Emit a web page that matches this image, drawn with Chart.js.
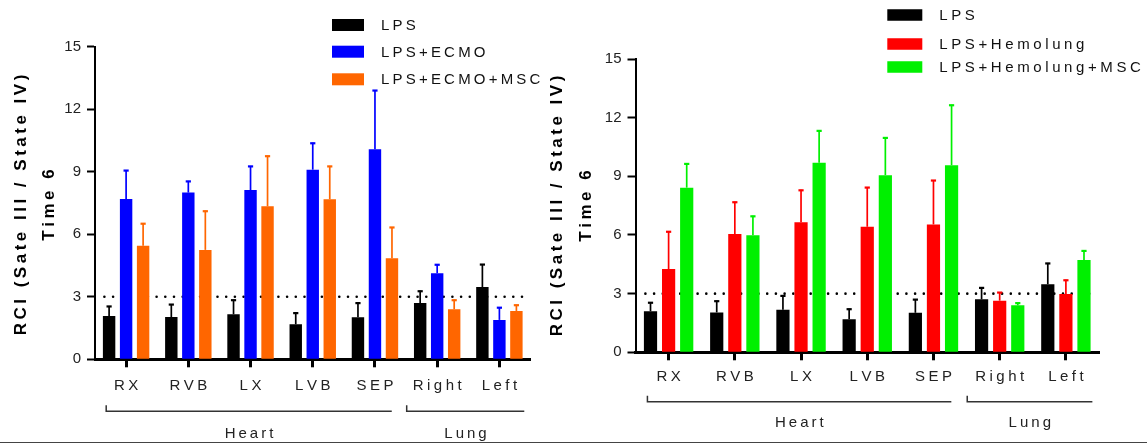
<!DOCTYPE html>
<html>
<head>
<meta charset="utf-8">
<script src="https://cdn.jsdelivr.net/npm/chart.js@4.4.0/dist/chart.umd.min.js"></script>
<style>
  html, body { margin: 0; padding: 0; background: #fff; }
  #painel { position: relative; width: 1147px; height: 444px; overflow: hidden; }
  #graficoEcmo { position: absolute; left: 0; top: 0; width: 570px; height: 444px; }
  #graficoHemolung { position: absolute; left: 540px; top: 0; width: 607px; height: 444px; }
  #linhaBase { position: absolute; left: 0; top: 441.5px; width: 1147px; height: 1.5px; background: #444; }
</style>
</head>
<body>
<div id="painel">
  <canvas id="graficoEcmo" width="570" height="444"></canvas>
  <canvas id="graficoHemolung" width="607" height="444"></canvas>
  <div id="linhaBase"></div>
</div>
<script>
console.log("✅ grafico RCI carregado");

// ==========================
// 📊 DADOS
// ==========================
const categorias = ["RX", "RVB", "LX", "LVB", "SEP", "Right", "Left"];
const grupoRotulos = ["Heart", "Lung"];
const grupoInicio = [0, 5];
const grupoFim = [4, 6];
const ticksY = [0, 3, 6, 9, 12, 15];
const limiteRCI = 3;
const tituloY = "RCI (Sate III / State IV)";
const subtituloY = "Time 6";

// painel ECMO
const seriesEcmo = ["LPS", "LPS+ECMO", "LPS+ECMO+MSC"];
const ecmoLps = [2.08, 2.03, 2.16, 1.68, 2.02, 2.7, 3.47];
const ecmoLpsSd = [0.48, 0.62, 0.7, 0.56, 0.7, 0.59, 1.1];
const ecmoEcmo = [7.69, 8.0, 8.12, 9.1, 10.08, 4.13, 1.89];
const ecmoEcmoSd = [1.39, 0.56, 1.16, 1.29, 2.84, 0.43, 0.61];
const ecmoMsc = [5.45, 5.25, 7.34, 7.68, 4.85, 2.4, 2.32];
const ecmoMscSd = [1.08, 1.88, 2.43, 1.6, 1.5, 0.46, 0.3];

// painel Hemolung
const seriesHemo = ["LPS", "LPS+Hemolung", "LPS+Hemolung+MSC"];
const hemoLps = [2.1, 2.04, 2.18, 1.69, 2.02, 2.71, 3.48];
const hemoLpsSd = [0.46, 0.6, 0.73, 0.54, 0.7, 0.61, 1.09];
const hemoHemo = [4.26, 6.05, 6.65, 6.42, 6.54, 2.64, 2.98];
const hemoHemoSd = [1.93, 1.65, 1.66, 2.03, 2.27, 0.44, 0.73];
const hemoMsc = [8.42, 5.98, 9.69, 9.06, 9.57, 2.4, 4.72];
const hemoMscSd = [1.24, 1.0, 1.66, 1.93, 3.09, 0.14, 0.49];

const FONTE = "'Liberation Sans', Arial, sans-serif";

// ==========================
// ✏️ TEXTO COM ESPAÇAMENTO
// ==========================
function textoEspacado(ctx, texto, x, y, espaco, alinhar) {
  const chars = Array.from(texto);
  const larguras = chars.map((c) => ctx.measureText(c).width);
  const total =
    larguras.reduce((a, b) => a + b, 0) + espaco * (chars.length - 1);
  let cx = x;
  if (alinhar === "center") cx = x - total / 2;
  if (alinhar === "right") cx = x - total;
  ctx.textAlign = "left";
  chars.forEach((c, i) => {
    ctx.fillText(c, cx, y);
    cx += larguras[i] + espaco;
  });
}

// ==========================
// 🧩 PLUGIN: linha 3, barras de erro, rótulos, legenda
// ==========================
const anotacoesRCI = {
  id: "anotacoesRCI",

  beforeDatasetsDraw(chart) {
    const { ctx } = chart;
    const y = chart.scales.y;
    const nDs = chart.data.datasets.length;
    const primeira = chart.getDatasetMeta(0).data[0];
    const metaUlt = chart.getDatasetMeta(nDs - 1);
    const ultima = metaUlt.data[metaUlt.data.length - 1];
    const py = y.getPixelForValue(limiteRCI);

    ctx.save();
    ctx.strokeStyle = "#000";
    ctx.lineWidth = 2.6;
    ctx.lineCap = "round";
    ctx.setLineDash([0, 8.7]);
    ctx.beginPath();
    ctx.moveTo(primeira.x - primeira.width / 2 + 1.5, py);
    ctx.lineTo(ultima.x + ultima.width / 2, py);
    ctx.stroke();
    ctx.restore();
  },

  afterDatasetsDraw(chart) {
    const { ctx } = chart;
    const y = chart.scales.y;
    ctx.save();
    chart.data.datasets.forEach((ds, d) => {
      const meta = chart.getDatasetMeta(d);
      ctx.strokeStyle = ds.backgroundColor;
      meta.data.forEach((barra, i) => {
        const topo = y.getPixelForValue(ds.data[i] + ds.desvio[i]);
        ctx.lineWidth = 1.7;
        ctx.beginPath();
        ctx.moveTo(barra.x, barra.y);
        ctx.lineTo(barra.x, topo);
        ctx.stroke();
        ctx.lineWidth = 2.2;
        ctx.beginPath();
        ctx.moveTo(barra.x - 2.6, topo + 0.5);
        ctx.lineTo(barra.x + 2.6, topo + 0.5);
        ctx.stroke();
      });
    });
    ctx.restore();
  },

  afterDraw(chart, args, opts) {
    const { ctx } = chart;
    const x = chart.scales.x;
    const area = chart.chartArea;
    const larguraCat = x.getPixelForValue(1) - x.getPixelForValue(0);

    ctx.save();
    ctx.fillStyle = "#222";
    ctx.textBaseline = "middle";

    // rótulos das categorias
    ctx.font = `15px ${FONTE}`;
    categorias.forEach((cat, i) => {
      textoEspacado(ctx, cat, x.getPixelForValue(i), area.bottom + opts.catY, 3.5, "center");
    });

    // chaves Heart / Lung
    ctx.strokeStyle = "#333";
    ctx.lineWidth = 1.5;
    const folgaIni = [0.32, 0.49];
    const folgaFim = [0.27, 0.4];
    grupoRotulos.forEach((rot, g) => {
      const x0 = x.getPixelForValue(grupoInicio[g]) - folgaIni[g] * larguraCat;
      const x1 = x.getPixelForValue(grupoFim[g]) + folgaFim[g] * larguraCat;
      const yc = area.bottom + opts.chaveY;
      ctx.beginPath();
      ctx.moveTo(x0, yc - 6);
      ctx.lineTo(x0, yc);
      ctx.lineTo(x1, yc);
      ctx.stroke();
      textoEspacado(ctx, rot, (x0 + x1) / 2, area.bottom + opts.grupoY, 3, "center");
    });

    // títulos do eixo Y
    ctx.fillStyle = "#000";
    ctx.font = `bold 17px ${FONTE}`;
    [[tituloY, opts.tituloX], [subtituloY, opts.subtituloX]].forEach(([txt, tx]) => {
      ctx.save();
      ctx.translate(tx, opts.tituloCentroY);
      ctx.rotate(-Math.PI / 2);
      textoEspacado(ctx, txt, 0, 0, 3.5, "center");
      ctx.restore();
    });

    // legenda
    ctx.font = `15px ${FONTE}`;
    chart.data.datasets.forEach((ds, d) => {
      const cy = opts.legenda.linhas[d];
      ctx.fillStyle = ds.backgroundColor;
      ctx.fillRect(opts.legenda.x, cy - opts.legenda.alt / 2, opts.legenda.larg, opts.legenda.alt);
      ctx.fillStyle = "#111";
      textoEspacado(ctx, ds.label, opts.legenda.textoX, cy + 1, opts.legenda.espaco, "left");
    });

    ctx.restore();
  },
};

// ==========================
// 📈 MONTAR GRÁFICO
// ==========================
function criarGrafico(canvasId, nomes, valores, desvios, cores, layout) {
  const canvas = document.getElementById(canvasId);
  const datasets = nomes.map((nome, i) => ({
    label: nome,
    data: valores[i],
    desvio: desvios[i],
    backgroundColor: cores[i],
    borderWidth: 0,
    categoryPercentage: 0.82,
    barPercentage: 0.73,
  }));

  return new Chart(canvas, {
    type: "bar",
    data: { labels: categorias, datasets },
    plugins: [anotacoesRCI],
    options: {
      responsive: false,
      animation: false,
      layout: {
        padding: { left: 0, right: layout.dir, top: layout.topo, bottom: 0 },
      },
      plugins: {
        legend: { display: false },
        tooltip: { enabled: false },
        anotacoesRCI: layout,
      },
      scales: {
        x: {
          offset: true,
          grid: {
            offset: false,
            drawOnChartArea: false,
            drawTicks: true,
            tickLength: 8,
            tickWidth: 3,
            tickColor: "#000",
          },
          border: { display: true, color: "#000", width: 3 },
          ticks: { display: false },
          afterFit: (s) => {
            s.height = layout.altX;
          },
        },
        y: {
          min: ticksY[0],
          max: ticksY[ticksY.length - 1],
          afterBuildTicks: (s) => {
            s.ticks = ticksY.map((v) => ({ value: v }));
          },
          grid: {
            drawOnChartArea: false,
            drawTicks: true,
            tickLength: 8,
            tickWidth: 2,
            tickColor: "#000",
          },
          border: { display: true, color: "#000", width: 2 },
          ticks: {
            color: "#222",
            padding: 6,
            font: { family: FONTE, size: 15 },
          },
          afterFit: (s) => {
            s.width = layout.largY;
          },
        },
      },
    },
  });
}

criarGrafico(
  "graficoEcmo",
  seriesEcmo,
  [ecmoLps, ecmoEcmo, ecmoMsc],
  [ecmoLpsSd, ecmoEcmoSd, ecmoMscSd],
  ["#000000", "#0000ff", "#ff6600"],
  {
    largY: 95,
    dir: 39.5,
    topo: 46.7,
    altX: 84.7,
    catY: 27,
    chaveY: 52,
    grupoY: 75,
    tituloX: 21,
    subtituloX: 49,
    tituloCentroY: 205,
    legenda: { x: 332, larg: 32, alt: 12, textoX: 381, espaco: 3.2, linhas: [25, 51.7, 79.3] },
  }
);

criarGrafico(
  "graficoHemolung",
  seriesHemo,
  [hemoLps, hemoHemo, hemoMsc],
  [hemoLpsSd, hemoHemoSd, hemoMscSd],
  ["#000000", "#ff0000", "#00f000"],
  {
    largY: 95.5,
    dir: 48,
    topo: 59,
    altX: 91.7,
    catY: 24.5,
    chaveY: 49.5,
    grupoY: 71,
    tituloX: 17,
    subtituloX: 46,
    tituloCentroY: 206,
    legenda: { x: 347.3, larg: 35, alt: 11.5, textoX: 399.3, espaco: 3.6, linhas: [15, 44, 67] },
  }
);
</script>
</body>
</html>
